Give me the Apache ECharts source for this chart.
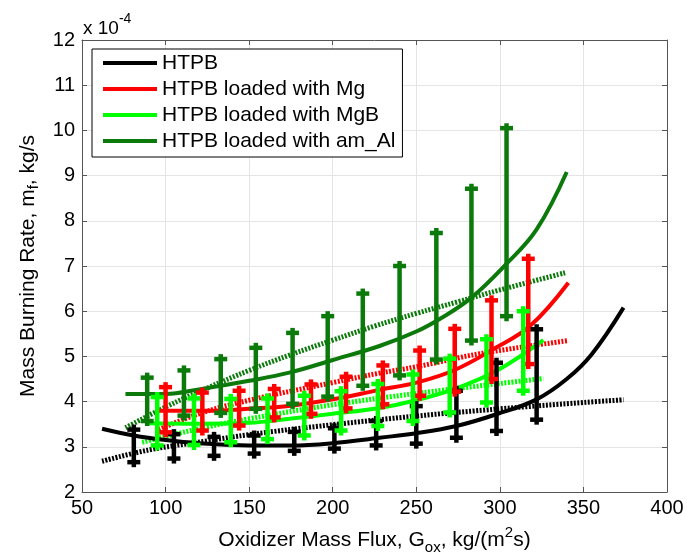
<!DOCTYPE html>
<html>
<head>
<meta charset="utf-8">
<script src="https://cdn.jsdelivr.net/npm/echarts/dist/echarts.min.js"></script>
<style>
  html, body { margin: 0; padding: 0; background: #fff; }
  #chart { width: 687px; height: 560px; }
</style>
</head>
<body>
<div id="chart"></div>
<script>
// values are in units of 1e-4 kg/s (see "x 10^-4" label)
const xTicks = [50, 100, 150, 200, 250, 300, 350, 400];
const yTicks = [2, 3, 4, 5, 6, 7, 8, 9, 10, 11, 12];

// measured points with error bars
const htpbX = [81, 105, 129, 153, 177, 201, 226, 250, 274, 298, 322];
const htpbLow = [2.66, 2.74, 2.8, 2.85, 2.91, 2.96, 3.03, 3.07, 3.2, 3.35, 3.6];
const htpbHigh = [3.38, 3.28, 3.22, 3.25, 3.33, 3.41, 3.57, 3.9, 4.24, 4.86, 5.6];

const mgX = [100, 122, 144, 165, 187, 208, 230, 252, 273, 295, 317];
const mgLow = [3.32, 3.36, 3.47, 3.65, 3.73, 3.85, 3.94, 4.13, 4.22, 4.5, 4.83];
const mgHigh = [4.32, 4.2, 4.24, 4.28, 4.38, 4.55, 4.8, 5.13, 5.61, 6.24, 7.16];

const mgbX = [95, 117, 139, 161, 183, 205, 227, 248, 270, 292, 314];
const mgbLow = [3.03, 3.04, 3.1, 3.17, 3.25, 3.36, 3.46, 3.57, 3.76, 3.98, 4.24];
const mgbHigh = [4.1, 4.07, 4.06, 4.07, 4.13, 4.23, 4.39, 4.6, 4.95, 5.38, 6.0];

const alX = [89, 111, 133, 154, 176, 197, 218, 240, 262, 283, 304];
const alLow = [3.57, 3.69, 3.75, 3.84, 3.95, 4.11, 4.35, 4.58, 4.93, 5.35, 5.89];
const alHigh = [4.53, 4.69, 4.94, 5.19, 5.52, 5.89, 6.39, 7.0, 7.73, 8.71, 10.05];

// solid fit curves
const htpbFitX = [62, 81, 100, 120, 150, 175, 200, 228, 250, 274, 298, 322, 340, 355, 374];
const htpbFit = [3.40, 3.25, 3.15, 3.08, 3.03, 3.03, 3.08, 3.2, 3.3, 3.46, 3.72, 4.05, 4.5, 5.05, 6.08];
const mgFitX = [95, 125, 150, 175, 200, 228, 250, 273, 297, 318, 341];
const mgFit = [3.8, 3.8, 3.84, 3.91, 4.05, 4.26, 4.42, 4.7, 5.18, 5.67, 6.63];
const mgbFitX = [89, 120, 150, 174, 200, 228, 250, 273, 298, 326];
const mgbFit = [3.52, 3.51, 3.53, 3.62, 3.73, 3.86, 4.03, 4.28, 4.68, 5.36];
const alFitX = [76, 100, 120, 150, 174, 200, 228, 250, 265, 283, 304, 322, 340];
const alFit = [4.17, 4.17, 4.27, 4.46, 4.64, 4.92, 5.23, 5.55, 5.85, 6.3, 7.05, 7.81, 9.08];

// dotted fit lines
const htpbLinX = [62, 90, 125, 150, 200, 250, 300, 350, 374];
const htpbLin = [2.68, 2.93, 3.13, 3.27, 3.49, 3.68, 3.84, 3.98, 4.04];
const mgLinX = [94, 120, 150, 200, 228, 250, 288, 341];
const mgLin = [3.35, 3.73, 4.03, 4.42, 4.63, 4.77, 5.06, 5.35];
const mgbLinX = [86, 100, 125, 150, 200, 250, 300, 326];
const mgbLin = [3.1, 3.23, 3.44, 3.62, 3.93, 4.18, 4.4, 4.51];
const alLinX = [76, 100, 125, 150, 175, 200, 225, 250, 275, 300, 339];
const alLin = [3.42, 3.88, 4.3, 4.69, 5.04, 5.36, 5.67, 5.95, 6.21, 6.47, 6.85];

const names = ['HTPB', 'HTPB loaded with Mg', 'HTPB loaded with MgB', 'HTPB loaded with am_Al'];
const colors = ['#000000', '#ff0000', '#00ff00', '#0b7a0b'];

const FONT = 'Liberation Sans, Arial, Helvetica, sans-serif';

const zip = (xs, ys) => xs.map((x, i) => [x, ys[i]]);
const zip3 = (xs, lo, hi) => xs.map((x, i) => [x, lo[i], hi[i]]);

// vertical bar with cross-like caps at both ends
const errorBar = (color) => (params, api) => {
  const x = api.value(0);
  const lo = api.coord([x, api.value(1)]);
  const hi = api.coord([x, api.value(2)]);
  const cap = 6.5, ext = 5;
  const style = { stroke: color, lineWidth: 4.5 };
  return {
    type: 'group',
    children: [
      { type: 'line', shape: { x1: lo[0], y1: lo[1] + ext, x2: hi[0], y2: hi[1] - ext }, style },
      { type: 'line', shape: { x1: hi[0] - cap, y1: hi[1], x2: hi[0] + cap, y2: hi[1] }, style },
      { type: 'line', shape: { x1: lo[0] - cap, y1: lo[1], x2: lo[0] + cap, y2: lo[1] }, style }
    ]
  };
};

const solid = (i, xs, ys) => ({
  name: names[i], type: 'line', data: zip(xs, ys), smooth: 0.4, showSymbol: false,
  itemStyle: { color: colors[i] }, lineStyle: { color: colors[i], width: 4 }, z: 3
});
const dotted = (i, xs, ys) => ({
  name: names[i] + ' fit', type: 'line', data: zip(xs, ys), smooth: 0.4, showSymbol: false,
  itemStyle: { color: colors[i] }, lineStyle: { color: colors[i], width: 5, type: [2, 1.5], cap: 'butt' }, z: 2
});
const bars = (i, xs, lo, hi) => ({
  name: names[i] + ' data', type: 'custom', data: zip3(xs, lo, hi),
  renderItem: errorBar(colors[i]), encode: { x: 0, y: [1, 2] }, z: 4
});

const chart = echarts.init(document.getElementById('chart'));

const axisCommon = {
  axisLine: { show: true, onZero: false, lineStyle: { color: '#555', width: 1 } },
  axisTick: { show: true, inside: true, length: 5, lineStyle: { color: '#555' } }
};

chart.setOption({
  animation: false,
  backgroundColor: '#fff',
  grid: { left: 82, top: 40, right: 20, bottom: 67 },
  legend: {
    data: names,
    orient: 'vertical',
    left: 92, top: 49,
    padding: [3, 7, 5, 11],
    itemGap: 4,
    itemWidth: 54, itemHeight: 4,
    icon: 'rect',
    borderColor: '#000', borderWidth: 1, borderRadius: 0,
    backgroundColor: '#fff',
    textStyle: { fontFamily: FONT, fontSize: 21, lineHeight: 22, color: '#000' }
  },
  xAxis: [{
    type: 'value', min: xTicks[0], max: xTicks[xTicks.length - 1], interval: 50,
    ...axisCommon,
    axisLabel: { fontFamily: FONT, fontSize: 20, color: '#000', margin: 6 },
    splitLine: { show: true, lineStyle: { color: '#e4e4e4', width: 1 } },
    name: '{n|Oxidizer Mass Flux, G}{sub|ox}{n|, kg/(m}{sup|2}{n|s)}',
    nameLocation: 'middle', nameGap: 33,
    nameTextStyle: {
      fontFamily: FONT, color: '#000',
      rich: {
        n: { fontFamily: FONT, fontSize: 21, lineHeight: 30, color: '#000' },
        sub: { fontFamily: FONT, fontSize: 15, lineHeight: 15, verticalAlign: 'bottom', color: '#000' },
        sup: { fontFamily: FONT, fontSize: 15, lineHeight: 15, verticalAlign: 'top', color: '#000' }
      }
    }
  }, {
    type: 'value', position: 'top', min: xTicks[0], max: xTicks[xTicks.length - 1], interval: 50,
    ...axisCommon, axisLabel: { show: false }, splitLine: { show: false }
  }],
  yAxis: [{
    type: 'value', min: yTicks[0], max: yTicks[yTicks.length - 1], interval: 1,
    ...axisCommon,
    axisLabel: { fontFamily: FONT, fontSize: 20, color: '#000', margin: 7 },
    splitLine: { show: true, lineStyle: { color: '#e4e4e4', width: 1 } },
    name: '{n|Mass Burning Rate, m}{sub|f}{n|, kg/s}',
    nameLocation: 'middle', nameGap: 33, nameRotate: 90,
    nameTextStyle: {
      fontFamily: FONT, color: '#000',
      rich: {
        n: { fontFamily: FONT, fontSize: 21, lineHeight: 28, color: '#000' },
        sub: { fontFamily: FONT, fontSize: 15, lineHeight: 15, verticalAlign: 'bottom', color: '#000' }
      }
    }
  }, {
    type: 'value', position: 'right', min: yTicks[0], max: yTicks[yTicks.length - 1], interval: 1,
    ...axisCommon, axisLabel: { show: false }, splitLine: { show: false }
  }],
  graphic: [{
    type: 'text', left: 83, top: 12,
    style: {
      text: '{n|x 10}{sup|-4}',
      rich: {
        n: { fontFamily: FONT, fontSize: 19, lineHeight: 26, fill: '#000', verticalAlign: 'bottom' },
        sup: { fontFamily: FONT, fontSize: 14, lineHeight: 14, fill: '#000', verticalAlign: 'top' }
      }
    }
  }],
  series: [
    dotted(0, htpbLinX, htpbLin),
    dotted(1, mgLinX, mgLin),
    dotted(2, mgbLinX, mgbLin),
    dotted(3, alLinX, alLin),
    solid(0, htpbFitX, htpbFit),
    solid(1, mgFitX, mgFit),
    solid(2, mgbFitX, mgbFit),
    solid(3, alFitX, alFit),
    bars(0, htpbX, htpbLow, htpbHigh),
    bars(1, mgX, mgLow, mgHigh),
    bars(3, alX, alLow, alHigh),
    bars(2, mgbX, mgbLow, mgbHigh)
  ]
});
</script>
</body>
</html>
